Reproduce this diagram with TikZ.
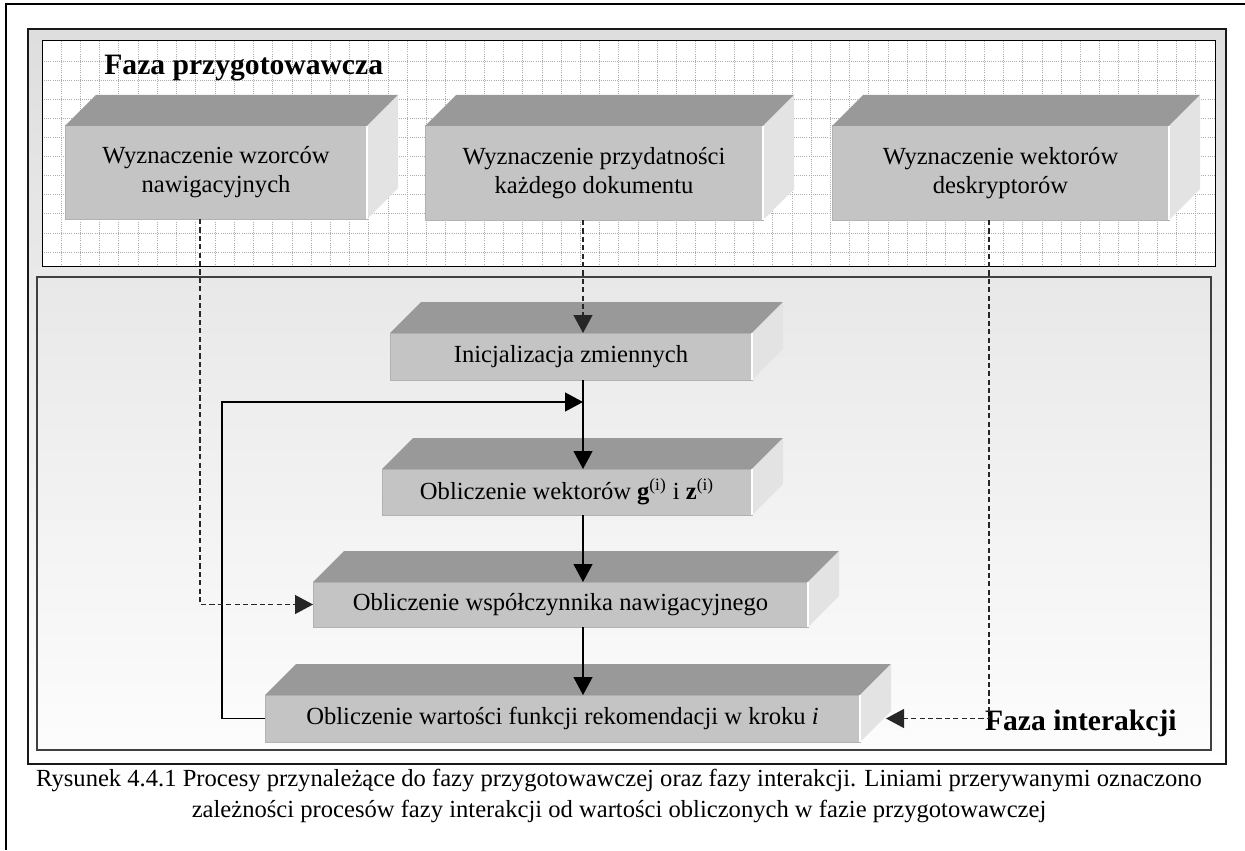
\documentclass[tikz,border=0pt]{standalone}
\usepackage{fontspec}
\setmainfont{Liberation Serif}
\usetikzlibrary{arrows.meta}

\newcommand\cubefont{\fontsize{12.3pt}{14.5pt}\selectfont}
\newcommand\phasefont{\fontsize{14.8pt}{17pt}\selectfont\bfseries}
\newcommand\figcapfont{\fontsize{12.3pt}{15.5pt}\selectfont}

% 3-D process block: #1 name, (#2,#3) front top-left, (#4,#5) front bottom-right, #6 text
\newcommand\cuboid[6]{%
  \node[frontface, minimum width={(#4-#2)*0.5pt}, minimum height={(#5-#3)*0.5pt}]
    (#1) at ({(#2+#4)/2},{(#3+#5)/2}) {#6};
  \fill[topface] (#1.north west) -- ++(31,-31) -- ([shift={(31,-31)}]#1.north east)
    -- (#1.north east) -- cycle;
  \fill[sideface] (#1.north east) -- ++(31,-31) -- ([shift={(31,-31)}]#1.south east)
    -- (#1.south east) -- cycle;
  \draw[white, line width=0.6pt] (#1.north east) -- (#1.south east);
}

\begin{document}
\begin{tikzpicture}[x=0.5pt, y=-0.5pt,
  pageline/.style={line width=1pt, black},
  frameline/.style={line width=1pt, black!90},
  panelline/.style={line width=0.5pt, black},
  interline/.style={line width=0.8pt, black!75},
  gridline/.style={black!32, line width=0.45pt, dash pattern=on 0.45pt off 0.6pt},
  frontface/.style={fill=black!23, draw=black!30, line width=0.5pt, inner sep=0pt,
    outer sep=0pt, align=center, font=\cubefont},
  topface/.style={fill=black!40},
  sideface/.style={fill=black!11},
  flow/.style={line width=0.6pt, black, -{Triangle[length=9pt, width=9.5pt]}},
  depend/.style={flow, black!85, line width=0.65pt, dash pattern=on 2.6pt off 1.6pt},
  phase/.style={font=\phasefont, inner sep=0pt},
  figcap/.style={font=\figcapfont, inner sep=0pt}
]
\useasboundingbox (0,0) rectangle (1245,850);

% page edge
\draw[pageline] (1245,4) -- (6,4) -- (6,850);

% figure frame with soft vertical gradient
\shade[top color=black!13, bottom color=white] (28,29) rectangle (1226,764);
\draw[frameline] (28,29) rectangle (1226,764);

% preparation panel: white with dotted grid
\fill[white] (42,41) rectangle (1215,266);
\begin{scope}
  \clip (42,41) rectangle (1215,266);
  \foreach \i in {1,...,61} \draw[gridline] ({42+19.23*\i},41) -- ({42+19.23*\i},266);
  \foreach \j in {1,...,11} \draw[gridline] (42,{42+19.1*\j}) -- (1215,{42+19.1*\j});
\end{scope}
\draw[panelline] (42,41) rectangle (1215,266);

% interaction panel
\shade[top color=black!9, bottom color=black!1] (37,277) rectangle (1211,750);
\draw[interline] (37,277) rectangle (1211,750);

% phase titles
\node[phase, anchor=base west] (prep) at (104,75) {Faza przygotowawcza};
\node[phase, anchor=base east] (inter) at (1177,730) {Faza interakcji};

% preparation processes
\cuboid{p1}{65}{126}{367}{219}{Wyznaczenie wzorców\\nawigacyjnych}
\cuboid{p2}{425}{126}{763}{220}{Wyznaczenie przydatności\\każdego dokumentu}
\cuboid{p3}{832}{126}{1169}{220}{Wyznaczenie wektorów\\deskryptorów}

% interaction processes
\cuboid{a}{390}{333}{752}{380}{Inicjalizacja zmiennych}
\cuboid{b}{382}{469}{752}{515}{Obliczenie wektorów \textbf{g}\textsuperscript{(i)} i \textbf{z}\textsuperscript{(i)}}
\cuboid{c}{313}{582}{808}{627}{Obliczenie współczynnika nawigacyjnego}
\cuboid{d}{265}{695}{860}{742}{Obliczenie wartości funkcji rekomendacji w kroku \textit{i}}

% routing coordinates
\coordinate (axis) at (583,0);
\coordinate (j1) at (200,0);
\coordinate (j3) at (989,0);
\coordinate (loopx) at (222,0);
\coordinate (merge) at (583,402);
\coordinate (dtip) at ([shift={(26,0)}]d.east);

% main flow
\draw[flow] (a.south -| axis) -- (b.north -| axis);
\draw[flow] (b.south -| axis) -- (c.north -| axis);
\draw[flow] (c.south -| axis) -- (d.north -| axis);
\draw[flow] (d.west) -| (loopx |- merge) -- (merge);

% dependencies on the preparation phase
\draw[depend] (p1.south -| j1) |- (c.west);
\draw[depend] (p2.south -| axis) -- (a.north -| axis);
\draw[depend] (p3.south -| j3) |- (dtip);

% caption
\node[figcap, anchor=base] (cap1) at (619,786) {Rysunek 4.4.1 Procesy przynależące do fazy przygotowawczej oraz fazy interakcji. Liniami przerywanymi oznaczono};
\node[figcap, anchor=base] (cap2) at (619,817) {zależności procesów fazy interakcji od wartości obliczonych w fazie przygotowawczej};
\end{tikzpicture}
\end{document}
